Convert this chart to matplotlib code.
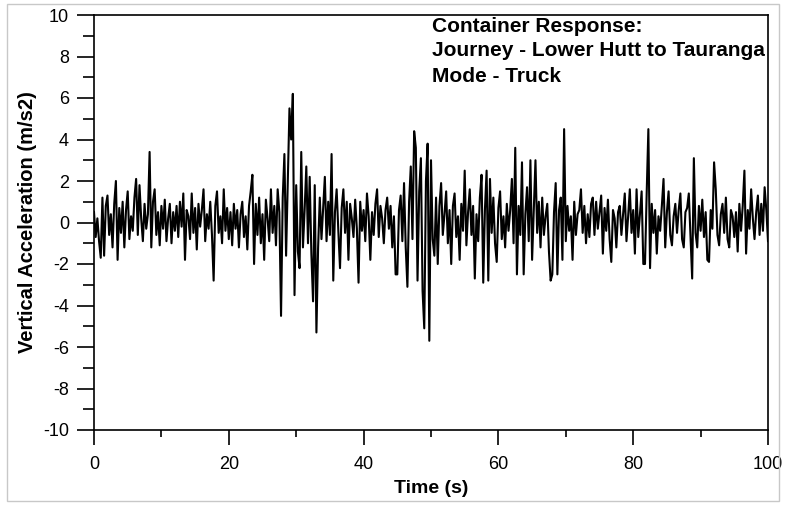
import numpy as np
import matplotlib
matplotlib.use("Agg")
import matplotlib.pyplot as plt
from matplotlib.patches import Rectangle
from matplotlib.ticker import MultipleLocator

plt.rcParams['font.family'] = ['Liberation Sans', 'DejaVu Sans']
plt.rcParams['axes.unicode_minus'] = False

# time step 0.25 s (m/s2), one line = 4 s
dt = 0.25
accel = [
    0.5, -0.7, 0.2, -0.9, -1.7, 1.2, -1.6, 0.8, 1.3, -0.6, 0.4, -1.2, 0.9, 2.0, -1.8, 0.7,
    -0.5, 1.0, -1.2, 0.6, 1.5, -0.8, 0.3, -0.4, 1.2, 2.1, -0.6, 1.8, 0.2, -0.9, 0.9, -0.3,
    0.4, 3.4, -1.2, 1.0, 1.6, -0.6, 0.5, -1.1, 0.8, -0.3, 1.1, -0.9, 0.2, 0.9, -1.0, 0.5,
    -0.4, 0.8, -0.7, 1.0, -0.2, 1.4, -1.8, 0.6, 0.3, -0.8, 1.4, -0.5, 0.7, -1.3, 0.9, -0.2,
    0.6, 1.6, -0.9, 0.4, -0.3, 1.0, -0.6, -2.8, 0.8, 1.5, -0.5, 0.3, -1.0, 1.6, -0.4, 0.7,
    -0.8, 0.5, -1.1, 0.9, -0.3, 0.6, -1.2, 0.4, 1.0, -0.7, 0.3, -1.3, 0.8, 1.5, 2.3, -2.0,
    0.9, -0.6, 1.2, -1.0, 0.4, -1.8, 1.1, 0.2, -0.9, 1.6, -0.5, 0.8, -1.1, 1.6, 0.5, -4.5,
    1.2, 3.3, -1.6, 2.0, 5.5, 4.0, 6.2, -3.5, 1.8, -1.4, -2.2, 3.4, -1.2, 0.6, 2.7, -1.0,
    2.2, -1.5, -3.8, 1.8, -5.3, -1.2, 1.2, -0.8, 0.7, 2.2, -0.9, 1.0, -0.6, 3.3, -2.8, 0.5,
    1.6, -0.4, -2.2, 0.7, 1.6, -0.5, 1.0, -1.8, 0.9, 0.2, -0.7, 1.1, -0.3, -2.9, 1.0, -0.4,
    0.6, -0.9, 1.4, 0.3, -1.8, 0.5, -0.6, 0.9, 1.6, -0.7, 0.8, 0.2, -1.0, 0.6, 1.2, -0.3,
    0.8, -1.2, 0.3, -2.5, -2.5, 0.6, 1.3, -0.9, 1.9, -1.2, -3.1, 1.0, 2.7, -0.8, 4.4, 3.6,
    -2.8, 1.5, 3.1, -3.3, -5.1, 2.0, 3.8, -5.7, 3.0, -0.8, -1.6, 1.2, -2.0, 0.8, 1.9, -0.6,
    0.4, 1.5, -1.0, 0.6, -2.0, 0.8, 1.4, -0.7, 0.3, -1.8, 0.9, -0.4, 2.5, -1.1, 0.5, 1.6,
    -0.6, 0.8, -2.7, 0.4, -0.9, 1.2, 2.3, -2.9, 0.6, 2.5, -2.8, 2.1, -0.5, 1.2, -1.0, -1.9,
    0.7, 1.5, -0.8, 0.3, -1.2, 0.9, -0.4, 0.6, 2.1, -1.0, 3.6, -2.5, 0.8, -0.6, 2.9, -2.5,
    0.4, 1.7, -0.9, 3.0, -1.8, 0.6, 3.0, -0.5, 1.0, -1.2, 1.2, -0.6, 0.3, 0.9, -1.4, -2.8,
    -2.5, 0.5, 1.9, -2.5, 0.6, 1.2, -1.8, 4.5, -0.9, 0.8, -0.4, 0.3, -1.8, 1.0, -0.6, 0.4,
    0.6, 1.6, -0.5, 0.8, -1.0, 0.4, -0.7, 0.9, 1.2, -0.6, 1.0, -0.3, 0.5, 1.3, -1.5, 0.7,
    -0.4, 1.1, -0.8, -1.9, 0.6, 0.2, -1.2, 0.5, 0.8, -0.6, 0.4, 1.4, -0.9, 0.3, 1.6, -0.5,
    0.6, -1.5, 1.6, -0.7, 0.4, 1.5, -2.0, -2.0, 1.4, 4.5, -2.2, 0.9, -0.5, 0.6, -1.5, 0.3,
    -0.4, 0.8, 2.1, -1.2, 0.5, 1.5, -0.6, -1.1, 0.3, 0.9, -0.5, 0.6, 1.4, -0.8, -1.2, 0.5,
    0.7, 1.4, -0.6, -2.7, 3.1, -0.5, -1.2, 0.8, -0.4, 1.1, -0.7, 0.5, -1.8, -1.9, 0.6, -0.3,
    2.9, 1.6, -0.6, -1.1, 0.4, 0.9, -0.5, 1.2, -0.8, -1.2, 0.6, 0.3, -0.7, 0.5, -1.4, 0.9,
    -0.4, 0.8, 2.5, -1.5, 0.6, -0.3, 1.6, 0.2, -0.8, 0.5, 1.3, -0.6, 0.9, -0.4, 1.7, 0.6,
    -0.9,
]
time = np.arange(len(accel)) * dt

title_lines = ["Container Response:",
               "Journey - Lower Hutt to Tauranga",
               "Mode - Truck"]

fig = plt.figure(figsize=(7.87, 5.05), dpi=100)
ax = fig.add_axes([94/787, 1-430/505, (768-94)/787, (430-15)/505])

ax.plot(time, accel, color='black', lw=1.5)

ax.set_xlim(0, 100)
ax.set_ylim(-10, 10)
ax.xaxis.set_major_locator(MultipleLocator(20))
ax.xaxis.set_minor_locator(MultipleLocator(10))
ax.yaxis.set_major_locator(MultipleLocator(2))
ax.yaxis.set_minor_locator(MultipleLocator(1))
ax.tick_params(axis='both', which='both', direction='out', width=1.2,
               labelsize=13, top=False, right=False)
ax.tick_params(axis='y', which='major', length=12, pad=6)
ax.tick_params(axis='y', which='minor', length=8)
ax.tick_params(axis='x', which='major', length=11, pad=8)
ax.tick_params(axis='x', which='minor', length=5)
for s in ax.spines.values():
    s.set_linewidth(1.2)

ax.set_xlabel("Time (s)", fontsize=14, fontweight='bold', labelpad=5)
ax.set_ylabel("Vertical Acceleration (m/s2)", fontsize=14.5, fontweight='bold', labelpad=4)

for i, line in enumerate(title_lines):
    fig.text(432/787, 1-(26+i*25)/505, line, fontsize=15, fontweight='bold',
             ha='left', va='center')

# light grey frame around the picture
fig.patches.append(Rectangle((7/787, 4/505), 772/787, 497/505, transform=fig.transFigure,
                             fill=False, edgecolor='#c8c8c8', lw=1))

plt.savefig("out.png", dpi=100)
